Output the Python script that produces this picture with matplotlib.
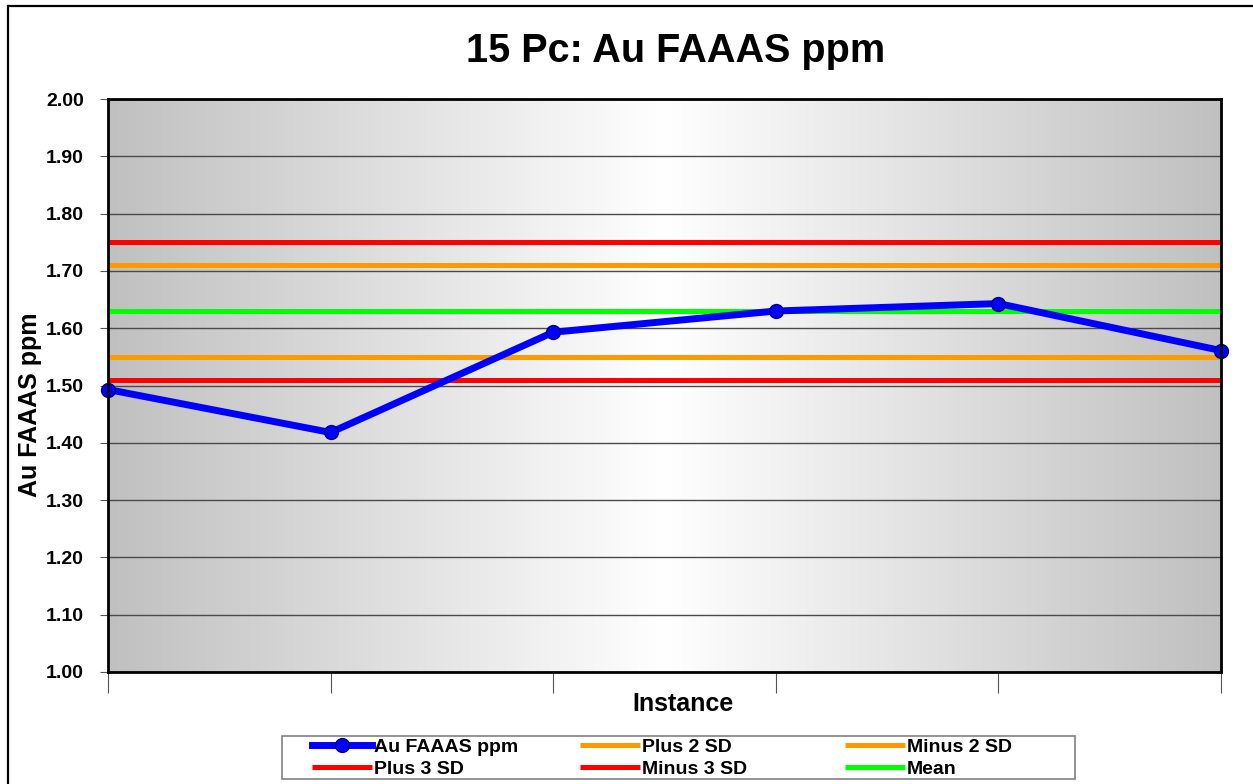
import numpy as np
import matplotlib
matplotlib.use("Agg")
import matplotlib.pyplot as plt
from matplotlib.patches import Rectangle

plt.rcParams['font.family'] = ['Liberation Sans', 'DejaVu Sans']

# Data
instances = [0, 1, 2, 3, 4, 5]
au_values = [1.493, 1.418, 1.593, 1.630, 1.643, 1.561]
plus_3sd = 1.75
plus_2sd = 1.71
mean_val = 1.63
minus_2sd = 1.55
minus_3sd = 1.51
yticks = [1.00, 1.10, 1.20, 1.30, 1.40, 1.50, 1.60, 1.70, 1.80, 1.90, 2.00]

W, H = 1253, 784
fig = plt.figure(figsize=(W / 100, H / 100), dpi=100)
fig.patch.set_facecolor('white')

# outer chart frame (cropped at right and bottom)
fig.patches.append(Rectangle((8 / W, -0.05), 1.1, 1 - 6 / H + 0.05, transform=fig.transFigure,
                             fill=False, edgecolor='black', linewidth=1.6, zorder=0))

ax = fig.add_axes([108 / W, 1 - 672 / H, (1221 - 108) / W, (672 - 99) / H])
ax.set_xlim(0, 5)
ax.set_ylim(1.0, 2.0)

# gradient background: gray -> white -> gray
xs = np.linspace(0, 1, 512)
shade = 1 - np.abs(xs - 0.5) * 2
vals = 0.753 + (1.0 - 0.753) * shade
grad = np.stack([vals, vals, vals], axis=-1)[np.newaxis, :, :].repeat(2, axis=0)
ax.imshow(grad, extent=[0, 5, 1.0, 2.0], aspect='auto', zorder=0, interpolation='bilinear')

ax.set_yticks(yticks)
ax.set_yticklabels([f"{v:.2f}" for v in yticks], fontsize=14, fontweight='bold')
ax.yaxis.grid(True, color='#4a4a4a', linewidth=1.0, zorder=1)
ax.set_axisbelow(False)
ax.set_xticks(instances)
ax.set_xticklabels([])
ax.tick_params(axis='x', length=15, width=0.8, color='#555555', direction='out')
ax.tick_params(axis='y', length=5.5, width=0.8, color='#555555', direction='out', pad=12)

lw_h = 3.6
l_p3, = ax.plot([0, 5], [plus_3sd] * 2, color='#FF0000', lw=lw_h, zorder=3, solid_capstyle='butt')
l_p2, = ax.plot([0, 5], [plus_2sd] * 2, color='#FF9900', lw=lw_h, zorder=3, solid_capstyle='butt')
l_mn, = ax.plot([0, 5], [mean_val] * 2, color='#00FF00', lw=lw_h, zorder=3, solid_capstyle='butt')
l_m2, = ax.plot([0, 5], [minus_2sd] * 2, color='#FF9900', lw=lw_h, zorder=3, solid_capstyle='butt')
l_m3, = ax.plot([0, 5], [minus_3sd] * 2, color='#FF0000', lw=lw_h, zorder=3, solid_capstyle='butt')
l_au, = ax.plot(instances, au_values, color='#0000FF', lw=5, marker='o', markersize=10,
                markerfacecolor='#0000FF', markeredgecolor='#000080', markeredgewidth=1.0,
                zorder=5, clip_on=False)

for s in ax.spines.values():
    s.set_linewidth(2.0)
    s.set_color('black')
    s.set_zorder(6)

fig.text(676 / W, 1 - 62 / H, "15 Pc: Au FAAAS ppm", ha='center', va='baseline',
         fontsize=28.5, fontweight='bold')
fig.text(683 / W, 1 - 704 / H, "Instance", ha='center', va='center',
         fontsize=18, fontweight='bold')
fig.text(30 / W, 1 - 405 / H, "Au FAAAS ppm", ha='center', va='center', rotation=90,
         fontsize=18, fontweight='bold')

# legend frame
fig.patches.append(Rectangle((282 / W, 1 - 779 / H), (1075 - 282) / W, (779 - 736) / H,
                             transform=fig.transFigure, fill=True, facecolor='white',
                             edgecolor='#808080', linewidth=1.2, zorder=1))

# legend: three columns, row-major order as in the reference
columns = [([l_au, l_p3], ["Au FAAAS ppm", "Plus 3 SD"], 312),
           ([l_p2, l_m3], ["Plus 2 SD", "Minus 3 SD"], 580),
           ([l_m2, l_mn], ["Minus 2 SD", "Mean"], 845)]
for hs, labs, x0 in columns:
    lg = fig.legend(hs, labs, loc='center left', bbox_to_anchor=(x0 / W, 1 - 758 / H),
                    frameon=False, prop={'weight': 'bold', 'size': 14},
                    handlelength=3.1, handletextpad=0.08, borderpad=0, labelspacing=0.22,
                    borderaxespad=0)
    lg.set_zorder(3)

fig.savefig("out.png", dpi=100, facecolor='white')
